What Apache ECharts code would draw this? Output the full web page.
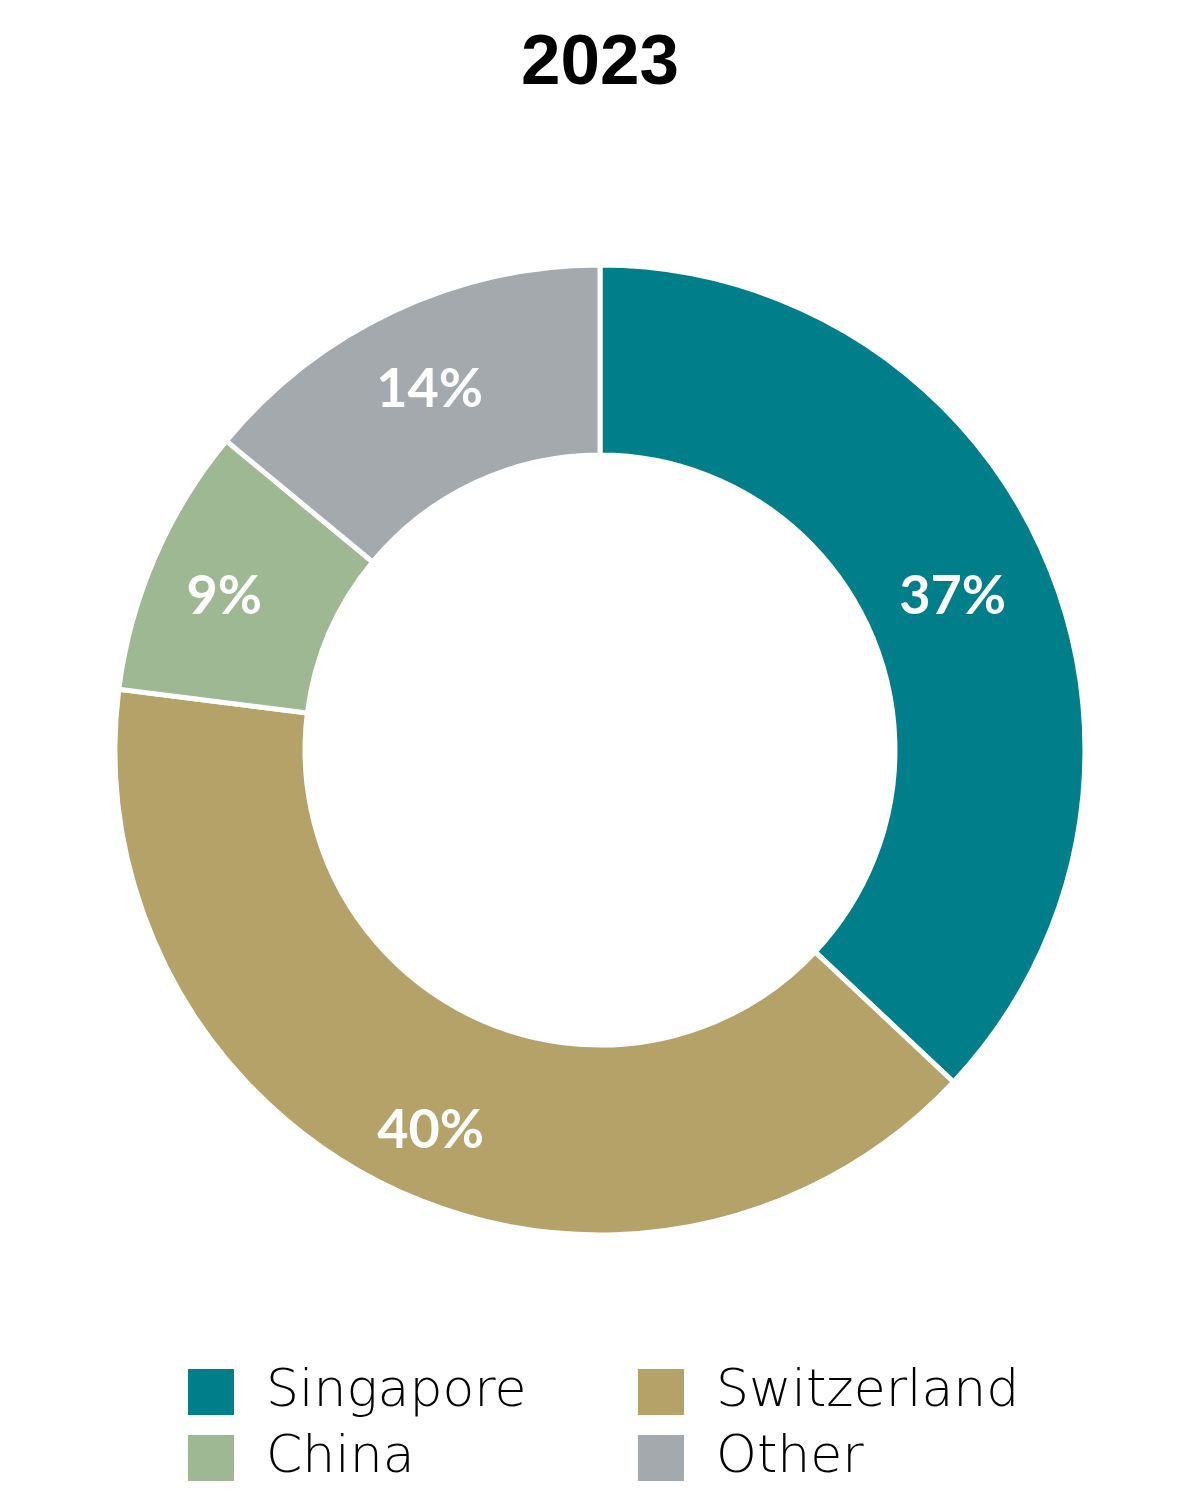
<!DOCTYPE html>
<html>
<head>
<meta charset="utf-8">
<script src="https://cdn.jsdelivr.net/npm/echarts@6/dist/echarts.min.js"></script>
<style>html,body{margin:0;padding:0;background:#fff}#c{width:1200px;height:1500px}</style>
</head>
<body>
<div id="c"></div>
<script>
const title = '2023';
const categories = ['Singapore', 'Switzerland', 'China', 'Other'];
const values = [37, 40, 9, 14];
const colors = ['#007E8A', '#B4A269', '#9DB893', '#A3A9AC'];
const labelOffsets = [[-8, 3], [-2, 25], [-15, 3], [-3, -5]];
const legendPos = [[186, 1366], [636, 1366], [186, 1432], [636, 1432]];

const chart = echarts.init(document.getElementById('c'));
const legendText = {fontFamily: 'DejaVu Sans', fontWeight: 200, fontSize: 52, color: '#000', padding: [0, 0, 0, 26]};
chart.setOption({
  animation: false,
  title: {text: title, left: 'center', top: 24, textStyle: {fontFamily: 'Liberation Sans', fontWeight: 'bold', fontSize: 71, color: '#000'}},
  legend: categories.map((n, i) => ({
    orient: 'horizontal', left: legendPos[i][0], top: legendPos[i][1], padding: 0, itemWidth: 48, itemHeight: 48, icon: 'rect',
    data: [n], textStyle: legendText, selectedMode: false
  })),
  series: [{
    type: 'pie',
    center: [600, 750],
    radius: [295, 485],
    startAngle: 90,
    clockwise: true,
    silent: true,
    itemStyle: {borderColor: '#fff', borderWidth: 5},
    label: {show: true, position: 'inside', formatter: '{c}%', color: '#fff', fontFamily: 'Lato', fontWeight: 'bold', fontSize: 54},
    labelLine: {show: false},
    data: categories.map((n, i) => ({name: n, value: values[i], itemStyle: {color: colors[i]}, label: {offset: labelOffsets[i]}}))
  }]
});
</script>
</body>
</html>
